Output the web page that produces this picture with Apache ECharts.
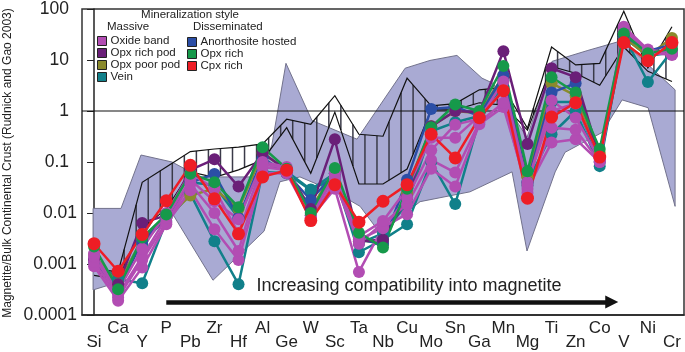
<!DOCTYPE html>
<html><head><meta charset="utf-8">
<script src="https://cdn.jsdelivr.net/npm/echarts/dist/echarts.min.js"></script>
<style>html,body{margin:0;padding:0;background:#fff}#c{width:685px;height:352px}</style>
</head><body><div id="c"></div>
<script>
const categories = ['Si','Ca','Y','P','Pb','Zr','Hf','Al','Ge','W','Sc','Ta','Nb','Cu','Mo','Sn','Ga','Mn','Mg','Ti','Zn','Co','V','Ni','Cr'];

// Massive
const oxideBand1 = [0.0009,0.00019,0.00085,0.006,0.028,0.0048,0.0012,0.06,0.06,0.008,0.03,0.0007,0.0053,0.0095,0.074,0.033,0.55,1.2,0.03,0.24,0.28,0.1,45,16,13.5];
const oxideBand2 = [0.0011,0.00022,0.0012,0.0065,0.037,0.01,0.0018,0.08,0.07,0.008,0.04,0.0025,0.0064,0.0147,0.11,0.062,0.6,1.45,0.025,0.47,0.43,0.1,40,14,12.5];
const oxideBand3 = [0.0014,0.00025,0.0014,0.008,0.045,0.017,0.0075,0.1,0.08,0.009,0.06,0.003,0.005,0.02,0.17,0.54,0.7,3.8,0.035,1.6,0.74,0.11,38,15,14];
const oxideBand4 = [0.0016,0.0003,0.002,0.01,0.06,0.03,0.004,0.09,0.075,0.009,0.05,0.0035,0.007,0.03,0.3,0.3,0.8,2.5,0.04,1.0,1.4,0.12,35,14,13];
const opxRichPod = [0.0012,0.0004,0.0064,0.009,0.07,0.113,0.033,0.15,0.07,0.012,0.28,0.0028,0.003,0.02,0.5,1.0,0.95,14.9,0.225,6.9,4.6,0.12,35,14,14];
const opxPoorPod = [0.0015,0.0004,0.003,0.008,0.022,0.03,0.012,0.15,0.07,0.012,0.07,0.003,0.0025,0.025,0.5,1.0,0.9,5,0.05,3.5,2,0.15,28,12,27];
const vein1 = [0.0012,0.0005,0.00042,0.007,0.024,0.0028,0.0004,0.064,0.06,0.028,0.05,0.0017,0.003,0.006,0.1,0.015,0.68,3,0.04,0.35,1.0,0.083,30,3.7,15];
const vein2 = [0.0011,0.00045,0.0025,0.008,0.04,0.035,0.008,0.1,0.065,0.029,0.06,0.0025,0.004,0.015,0.4,0.6,0.8,4,0.035,1.5,1.5,0.1,28,12,14];
// Disseminated
const anorthositeHosted = [0.0012,0.0003,0.0028,0.008,0.04,0.058,0.008,0.12,0.06,0.018,0.06,0.003,0.0025,0.045,1.1,1.2,0.8,5,0.04,2.3,3.5,0.12,30,15,20];
const opxRich = [0.0022,0.00032,0.0033,0.0093,0.059,0.040,0.013,0.195,0.074,0.010,0.076,0.0041,0.0021,0.030,0.48,1.34,1.0,7.6,0.066,4.6,2.3,0.18,33,13.5,16.7];
const cpxRich = [0.0025,0.00072,0.0038,0.0174,0.086,0.019,0.0039,0.051,0.069,0.0071,0.036,0.0066,0.017,0.036,0.35,0.12,0.74,2.5,0.0195,0.76,1.45,0.125,22,9.7,22];

// hatched band (upper / lower bounds at each element)
const hatchUpper = [0.0008,0.0007,0.04,0.08,0.16,0.18,0.195,0.226,0.69,0.55,2.0,0.35,0.32,4.4,1.26,1.4,2.6,2.9,0.46,18,8,8.6,90,7,45];
const hatchLower = [0.0006,0.0005,0.005,0.012,0.064,0.05,0.07,0.11,0.47,0.06,0.95,0.037,0.037,0.073,1.05,1.05,1.45,1.3,0.42,7.5,5.5,3.2,18,6,3.8];

// shaded range polygon vertices [element position, value]
const rangePolygon = [
  [-0.04,0.0123],[1.12,0.0123],[1.95,0.137],[3.24,0.10],[4.40,0.051],[6.98,0.051],[7.39,0.223],[7.97,8.6],[9.05,0.65],
  [10.92,0.28],[12.92,6.9],[13.95,9.8],[15.07,12.3],[16.11,4.4],[16.57,3.5],[17.98,0.30],[19.02,9.4],[20.51,15.4],[21.93,24],[24.13,2.6],
  [24.13,0.0135],[23.01,1.16],[21.93,1.65],[21.10,0.38],[19.56,0.155],[19.15,0.064],[17.98,0.0018],[17.36,0.064],[15.61,0.026],
  [13.54,0.0167],[11.88,0.0040],[11.05,0.0135],[10.01,0.026],[8.55,0.051],[7.72,0.041],[7.06,0.0044],[4.94,0.00048],[2.95,0.0168],
  [1.91,0.0028],[1.0,0.00044],[-0.04,0.00031]
];

const arrowFrom = [3, 0.00018];
const arrowTo = [21.5, 0.00018];

const FONT = 'Liberation Sans, Arial, Helvetica, sans-serif';
const C = {oxide:'#b24db3', opxPod:'#6a1f78', opxPoor:'#8a8a2c', vein:'#11808a', anor:'#2b4ea6', opxRich:'#16994a', cpx:'#ee1d25'};

function lineSeries(name, color, data, size){
  return {type:'line', name, data, xAxisIndex:0, yAxisIndex:0, symbol:'circle', symbolSize:size||12,
    itemStyle:{color}, lineStyle:{color, width:2.5}, emphasis:{disabled:true}, silent:true};
}
const legendText = {fontSize:11.5, fontFamily:FONT, color:'#222', lineHeight:10, padding:[0,0,0,-1]};

const chart = echarts.init(document.getElementById('c'), null, {renderer:'canvas'});
const option = {
  animation:false,
  backgroundColor:'#fff',
  grid:{left:82, right:1, top:4, bottom:37, show:true, borderColor:'#333', borderWidth:1.5, backgroundColor:'transparent'},
  xAxis:[
    {type:'category', data:categories, boundaryGap:true,
      axisLine:{lineStyle:{color:'#222', width:1.5}},
      axisTick:{alignWithLabel:true, length:5, lineStyle:{color:'#222'}},
      axisLabel:{interval:0, fontSize:17, fontFamily:FONT, color:'#222', margin:6, lineHeight:14,
        formatter:(v,i)=> i%2===0 ? '\n'+v : v},
      splitLine:{show:false}},
    {type:'value', min:-0.5, max:24.5, show:false, gridIndex:0}
  ],
  yAxis:{type:'log', logBase:10, min:0.0001, max:100,
    axisLine:{show:true, lineStyle:{color:'#222', width:1.5}},
    axisTick:{show:true, length:7, lineStyle:{color:'#222'}},
    axisLabel:{fontSize:17.5, fontFamily:FONT, color:'#222', margin:5,
      formatter:v=>{const e=Math.round(Math.log10(v));
        const s = e>=0? String(Math.pow(10,e)) : '0.'+'0'.repeat(-e-1)+'1';
        return e>=-1 ? '{a|'+s+'}' : '{b|'+s+'}';},
      rich:{a:{fontSize:17.5, fontFamily:FONT, color:'#222', padding:[0,8,0,0]}, b:{fontSize:17.5, fontFamily:FONT, color:'#222'}}},
    splitLine:{show:false}, minorTick:{show:false}},
  legend:[
    {data:['Oxide band','Opx rich pod','Opx poor pod','Vein'], orient:'vertical', left:97, top:35, padding:0,
      icon:'rect', itemWidth:9, itemHeight:9, itemGap:0, selectedMode:false,
      itemStyle:{borderColor:'#222', borderWidth:1}, textStyle:legendText},
    {data:['Anorthosite hosted','Opx rich','Cpx rich'], orient:'vertical', left:187, top:36, padding:0,
      icon:'rect', itemWidth:9, itemHeight:9, itemGap:0, selectedMode:false,
      itemStyle:{borderColor:'#222', borderWidth:1}, textStyle:legendText}
  ],
  graphic:[
    {type:'text', x:190, y:15, style:{text:'Mineralization style', font:'11.5px '+FONT, fill:'#222', textAlign:'center', textVerticalAlign:'middle'}},
    {type:'text', x:107, y:27, style:{text:'Massive', font:'11.5px '+FONT, fill:'#222', textAlign:'left', textVerticalAlign:'middle'}},
    {type:'text', x:193, y:27, style:{text:'Disseminated', font:'11.5px '+FONT, fill:'#222', textAlign:'left', textVerticalAlign:'middle'}},
    {type:'text', x:409, y:286, style:{text:'Increasing compatibility into magnetite', font:'18px '+FONT, fill:'#222', textAlign:'center', textVerticalAlign:'middle'}},
    {type:'text', x:8, y:163, rotation:Math.PI/2, style:{text:'Magnetite/Bulk Continental Crust (Rudnick and Gao 2003)', font:'12px '+FONT, fill:'#222', textAlign:'center', textVerticalAlign:'middle'}}
  ],
  series:[
    {type:'custom', name:'range', xAxisIndex:1, yAxisIndex:0, data:[[0,1]], silent:true, z:1,
      renderItem:(params, api)=>({type:'polygon', shape:{points:rangePolygon.map(p=>api.coord(p))},
        style:{fill:'#a9aad3', stroke:'#72728c', lineWidth:1}})},
    {type:'custom', name:'band', xAxisIndex:1, yAxisIndex:0, data:[[0,1]], silent:true, z:2,
      renderItem:(params, api)=>{
        const up = hatchUpper.map((v,i)=>api.coord([i,v]));
        const lo = hatchLower.map((v,i)=>api.coord([i,v]));
        const children = [];
        for(let k=0;k<up.length-1;k++){
          for(const f of [0.25,0.75]){
            const x = up[k][0]+(up[k+1][0]-up[k][0])*f;
            const yu = up[k][1]+(up[k+1][1]-up[k][1])*f;
            const yl = lo[k][1]+(lo[k+1][1]-lo[k][1])*f;
            children.push({type:'line', shape:{x1:x,y1:yu,x2:x,y2:yl}, style:{stroke:'#3a3a48', lineWidth:1.5}});
          }
        }
        children.push({type:'polyline', shape:{points:up}, style:{stroke:'#111', lineWidth:1.2, fill:null}});
        children.push({type:'polyline', shape:{points:lo}, style:{stroke:'#111', lineWidth:1.2, fill:null}});
        return {type:'group', children};
      }},
    {type:'line', name:'unity', xAxisIndex:1, yAxisIndex:0, data:[[-0.5,1],[24.5,1]], symbol:'none', silent:true, z:3,
      lineStyle:{color:'#111', width:1.2},
      markLine:{silent:true, symbol:['none','triangle'], symbolSize:13, label:{show:false},
        lineStyle:{color:'#111', width:4.5, type:'solid'},
        data:[[{coord:arrowFrom},{coord:arrowTo}]]}},
    lineSeries('Vein', C.vein, vein1),
    lineSeries('Vein', C.vein, vein2),
    lineSeries('Opx poor pod', C.opxPoor, opxPoorPod),
    lineSeries('Anorthosite hosted', C.anor, anorthositeHosted),
    lineSeries('Opx rich pod', C.opxPod, opxRichPod),
    lineSeries('Oxide band', C.oxide, oxideBand1),
    lineSeries('Oxide band', C.oxide, oxideBand2),
    lineSeries('Oxide band', C.oxide, oxideBand3),
    lineSeries('Oxide band', C.oxide, oxideBand4),
    lineSeries('Opx rich', C.opxRich, opxRich),
    lineSeries('Cpx rich', C.cpx, cpxRich, 13)
  ]
};
chart.setOption(option);
</script></body></html>
